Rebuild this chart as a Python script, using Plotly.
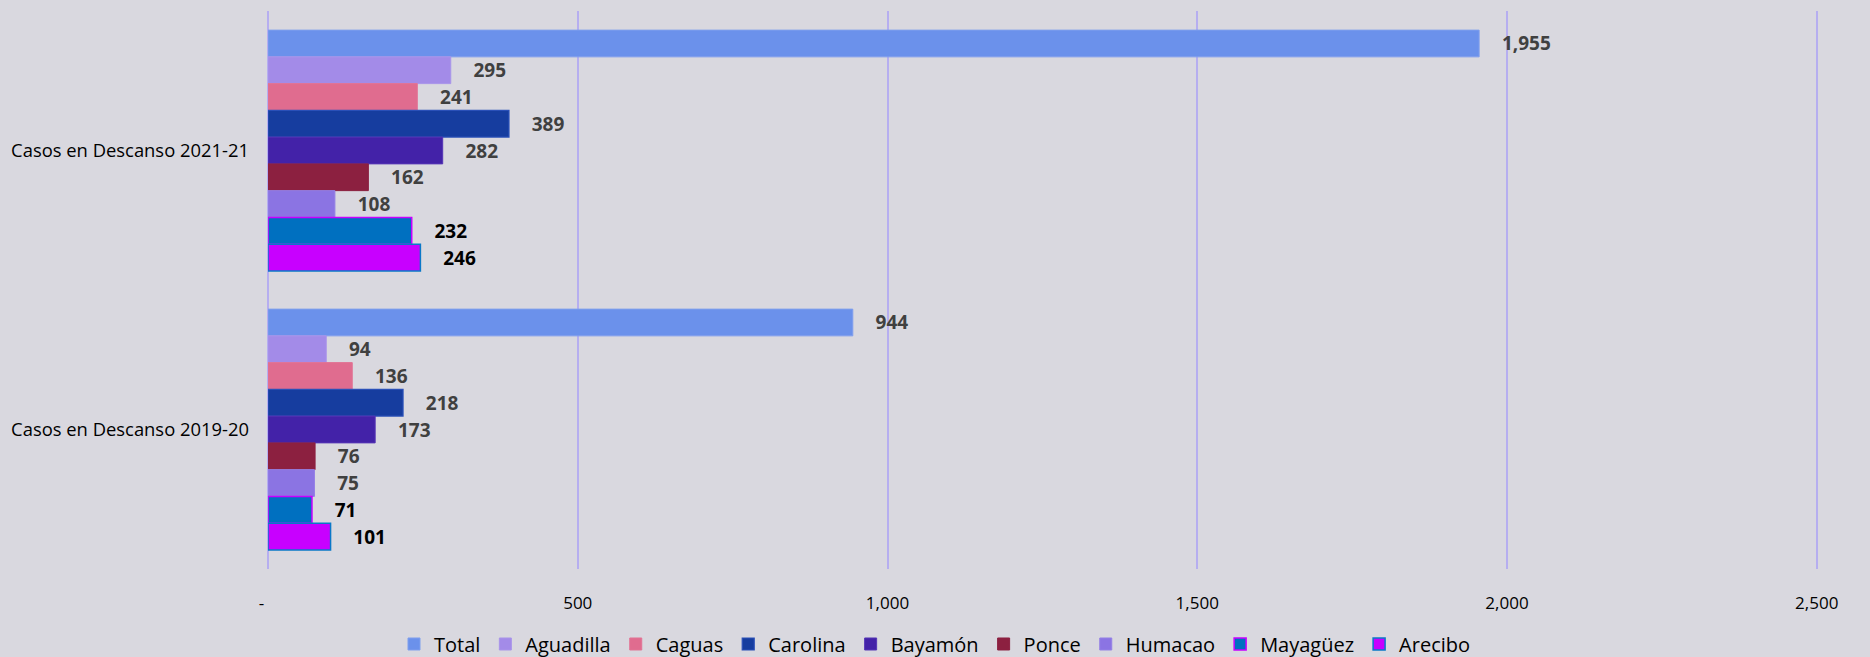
import plotly.graph_objects as go

categories = ["Casos en Descanso 2021-21", "Casos en Descanso 2019-20"]
series_names = ["Total", "Aguadilla", "Caguas", "Carolina", "Bayamón", "Ponce", "Humacao", "Mayagüez", "Arecibo"]
values_2021 = [1955, 295, 241, 389, 282, 162, 108, 232, 246]
values_2019 = [944, 94, 136, 218, 173, 76, 75, 71, 101]
x_tickvals = [0, 500, 1000, 1500, 2000, 2500]
x_ticktext = ["-\u00a0\u00a0\u00a0", "500", "1,000", "1,500", "2,000", "2,500"]

fill_colors = ["#6B91EB", "#A38BE8", "#E06C8F", "#163D9F", "#4322A8", "#8C2040", "#8B74E3", "#0070C0", "#C800FF"]
line_colors = ["#7F9FEE", "#A994EA", "#E27395", "#2A50B8", "#5535B5", "#8C2040", "#9580E6", "#C800FF", "#0A78C8"]
line_widths = [1, 1, 1, 1.2, 1, 1, 1, 1.5, 1.5]
label_colors = ["#404040"] * 7 + ["#000000", "#000000"]

FONT = "Segoe UI, Open Sans, sans-serif"

fig = go.Figure()
for i, name in enumerate(series_names):
    vals = [values_2021[i], values_2019[i]]
    fig.add_trace(go.Bar(
        name=name,
        y=categories,
        x=vals,
        orientation="h",
        marker=dict(color=fill_colors[i], line=dict(color=line_colors[i], width=line_widths[i])),
        texttemplate="\u00a0\u00a0\u00a0\u00a0<b>%{x:,}</b>",
        textposition="outside",
        constraintext="none",
        cliponaxis=False,
        textfont=dict(family=FONT, size=19, color=label_colors[i]),
        hovertemplate="%{y}: %{x:,}<extra>" + name + "</extra>",
    ))

grid = "#B6AEF0"
fig.update_layout(
    width=1870,
    height=657,
    paper_bgcolor="#D9D8DF",
    plot_bgcolor="#D9D8DF",
    barmode="group",
    bargap=0.137,
    bargroupgap=0,
    margin=dict(l=268, r=52, t=11, b=88, pad=0, autoexpand=False),
    font=dict(family=FONT, size=17, color="#000000"),
    xaxis=dict(
        range=[0, 2502],
        tickvals=x_tickvals,
        ticktext=x_ticktext,
        showgrid=True,
        gridcolor=grid,
        gridwidth=1.5,
        zeroline=True,
        zerolinecolor=grid,
        zerolinewidth=1.5,
        showline=False,
        automargin=False,
        ticklabelstandoff=22,
        tickfont=dict(family=FONT, size=17, color="#000000"),
    ),
    yaxis=dict(
        autorange="reversed",
        categoryorder="array",
        categoryarray=categories,
        showgrid=False,
        zeroline=False,
        showline=False,
        automargin=False,
        ticklabelstandoff=18,
        tickfont=dict(family=FONT, size=18.4, color="#000000"),
    ),
    legend=dict(
        orientation="h",
        xref="container",
        yref="container",
        x=0.5,
        xanchor="center",
        y=0.0198,
        yanchor="middle",
        font=dict(family=FONT, size=20, color="#000000"),
        traceorder="normal",
        itemwidth=30,
        tracegroupgap=0,
        bgcolor="rgba(0,0,0,0)",
    ),
    showlegend=True,
)

fig.write_html("out.html", config={"displayModeBar": False},
               post_script="document.body.style.margin='0';")
